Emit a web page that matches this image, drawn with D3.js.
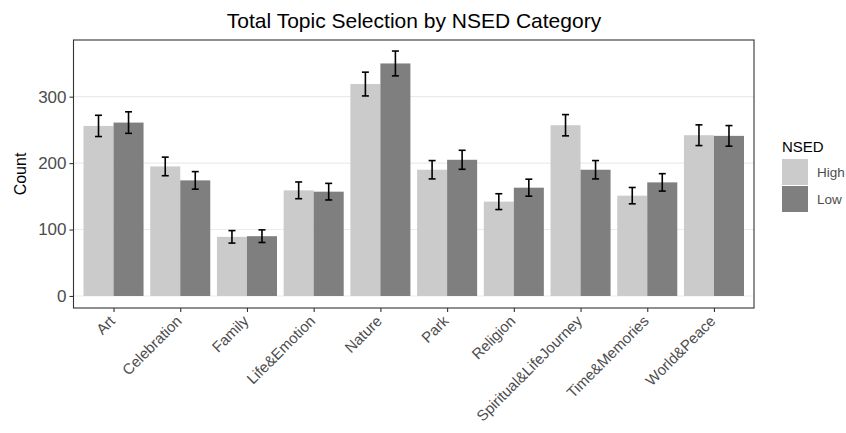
<!DOCTYPE html>
<html>
<head>
<meta charset="utf-8">
<script src="https://cdn.jsdelivr.net/npm/d3@7"></script>
<style>
  html, body { margin: 0; padding: 0; background: #fff; }
  svg { display: block; font-family: "Liberation Sans", Arial, sans-serif; }
</style>
</head>
<body>
<svg id="chart" width="846" height="433"></svg>
<script>
// Topic categories along the x axis
const categories = ["Art", "Celebration", "Family", "Life&Emotion", "Nature", "Park",
  "Religion", "Spiritual&LifeJourney", "Time&Memories", "World&Peace"];

// NSED groups and their fills
const groups = ["High", "Low"];
const groupColors = ["#cbcbcb", "#7f7f7f"];

// Counts per category for each group
const highCounts = [256, 195, 89, 159, 319, 190, 142, 257, 151, 242];
const lowCounts  = [261, 174, 90, 157, 350, 205, 163, 190, 171, 241];

// Half-length of each error bar
const highErr = [16.0, 14.0, 9.4, 12.6, 17.9, 13.8, 11.9, 16.0, 12.3, 15.6];
const lowErr  = [16.2, 13.2, 9.5, 12.5, 18.7, 14.3, 12.8, 13.8, 13.1, 15.5];

// Y axis ticks
const yTicks = [0, 100, 200, 300];

const svg = d3.select("#chart");
const panel = { left: 73.5, right: 754, top: 40, bottom: 308 };

const x = d3.scalePoint().domain(categories).range([panel.left, panel.right]).padding(0.6);
const step = x.step();
const barW = step * 0.9 / groups.length;
const dodge = d3.scaleBand().domain(groups).range([-step * 0.45, step * 0.45]);

const y = d3.scaleLinear().domain([-18.1, 385.3]).range([panel.bottom, panel.top]);

// Horizontal gridlines
svg.append("g").selectAll("line").data(yTicks).join("line")
  .attr("x1", panel.left).attr("x2", panel.right)
  .attr("y1", d => y(d)).attr("y2", d => y(d))
  .attr("stroke", "#ebebeb").attr("stroke-width", 1.1);

// Rows of bar data
const rows = [];
categories.forEach((c, i) => {
  rows.push({ cat: c, group: "High", value: highCounts[i], err: highErr[i] });
  rows.push({ cat: c, group: "Low", value: lowCounts[i], err: lowErr[i] });
});
const color = d3.scaleOrdinal().domain(groups).range(groupColors);

svg.append("g").selectAll("rect").data(rows).join("rect")
  .attr("x", d => x(d.cat) + dodge(d.group))
  .attr("width", barW)
  .attr("y", d => y(d.value))
  .attr("height", d => y(0) - y(d.value))
  .attr("fill", d => color(d.group));

// Error bars
const capHalf = 3.5;
const eb = svg.append("g").attr("stroke", "#000").attr("stroke-width", 1.6).attr("fill", "none");
const ebg = eb.selectAll("g").data(rows).join("g")
  .attr("transform", d => `translate(${x(d.cat) + dodge(d.group) + barW / 2},0)`);
ebg.append("line").attr("x1", 0).attr("x2", 0)
  .attr("y1", d => y(d.value - d.err)).attr("y2", d => y(d.value + d.err));
ebg.append("line").attr("x1", -capHalf).attr("x2", capHalf)
  .attr("y1", d => y(d.value + d.err)).attr("y2", d => y(d.value + d.err));
ebg.append("line").attr("x1", -capHalf).attr("x2", capHalf)
  .attr("y1", d => y(d.value - d.err)).attr("y2", d => y(d.value - d.err));

// Panel border
svg.append("rect")
  .attr("x", panel.left).attr("y", panel.top)
  .attr("width", panel.right - panel.left).attr("height", panel.bottom - panel.top)
  .attr("fill", "none").attr("stroke", "#333").attr("stroke-width", 1.1);

// Y axis
const yAxis = svg.append("g").attr("transform", `translate(${panel.left},0)`)
  .call(d3.axisLeft(y).tickValues(yTicks).tickSize(4).tickPadding(3));
yAxis.select(".domain").remove();
yAxis.selectAll(".tick line").attr("stroke", "#333").attr("stroke-width", 1.1);
yAxis.selectAll(".tick text").attr("fill", "#4d4d4d").attr("font-size", 17)
  .attr("font-family", "Liberation Sans, Arial, sans-serif");

// X axis
const xAxis = svg.append("g").attr("transform", `translate(0,${panel.bottom})`)
  .call(d3.axisBottom(x).tickSize(4).tickPadding(3));
xAxis.select(".domain").remove();
xAxis.selectAll(".tick line").attr("stroke", "#333").attr("stroke-width", 1.1);
xAxis.selectAll(".tick text")
  .attr("fill", "#4d4d4d").attr("font-size", 15)
  .attr("font-family", "Liberation Sans, Arial, sans-serif")
  .attr("text-anchor", "end")
  .attr("dy", null).attr("y", 0)
  .attr("transform", "translate(2,14) rotate(-45)");

// Axis title
svg.append("text")
  .attr("transform", `translate(26,${(panel.top + panel.bottom) / 2}) rotate(-90)`)
  .attr("text-anchor", "middle").attr("font-size", 16).attr("fill", "#000")
  .text("Count");

// Chart title
svg.append("text")
  .attr("x", 414).attr("y", 28)
  .attr("text-anchor", "middle").attr("font-size", 21).attr("fill", "#000")
  .text("Total Topic Selection by NSED Category");

// Legend
const legend = svg.append("g").attr("transform", "translate(782,0)");
legend.append("text").attr("x", 0).attr("y", 152).attr("font-size", 15).attr("fill", "#000").text("NSED");
const li = legend.selectAll("g").data(groups).join("g")
  .attr("transform", (d, i) => `translate(0,${159 + i * 27})`);
li.append("rect").attr("width", 26).attr("height", 26).attr("fill", d => color(d));
li.append("text").attr("x", 35).attr("y", 13).attr("dy", "0.35em")
  .attr("font-size", 13.5).attr("fill", "#4d4d4d").text(d => d);
</script>
</body>
</html>
